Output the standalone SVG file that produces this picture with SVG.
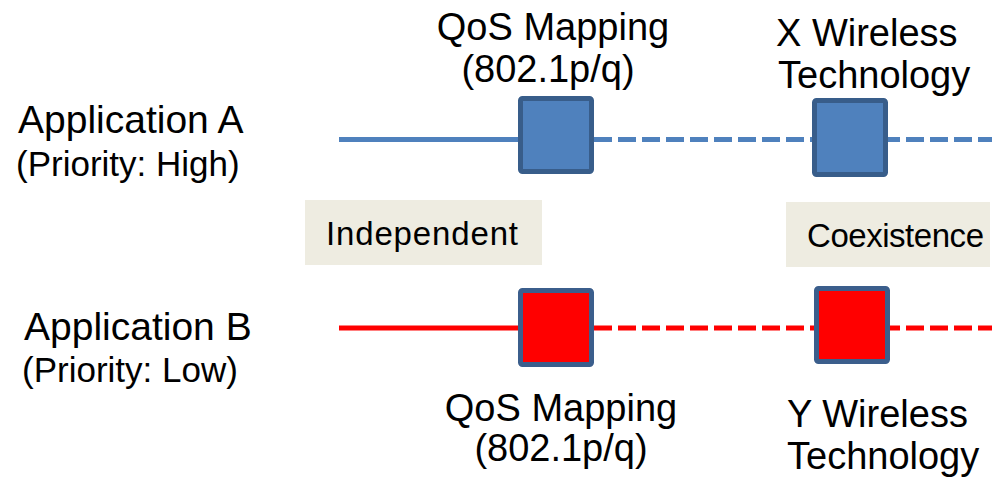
<svg xmlns="http://www.w3.org/2000/svg" width="992" height="477" viewBox="0 0 992 477">
  <style>
    text { font-family: "Liberation Sans", Arial, sans-serif; fill: #000000; }
    .big { font-size: 38px; }
    .app { font-size: 39px; }
    .pri { font-size: 35px; }
    .lbl { font-size: 33px; }
    .blue { fill: #4F81BD; stroke: #385D8A; stroke-width: 5; }
    .red { fill: #FF0000; stroke: #3B5E8C; stroke-width: 5; }
    .lblbox { fill: #EEECE1; stroke: none; }
    .lineA { stroke: #4F81BD; stroke-width: 5; fill: none; }
    .lineB { stroke: #FF0000; stroke-width: 5; fill: none; }
    .dash { stroke-dasharray: 18 6; }
  </style>
  <rect width="992" height="477" fill="#FFFFFF"/>

  <g id="labels-left">
    <g id="appA">
      <text class="app" x="18" y="133">Application A</text>
      <text class="pri" x="16" y="176">(Priority: High)</text>
    </g>
    <g id="appB">
      <text class="app" x="24" y="340">Application B</text>
      <text class="pri" x="22" y="382">(Priority: Low)</text>
    </g>
  </g>

  <g id="independent">
    <rect class="lblbox" x="305" y="200" width="237" height="65"/>
    <text class="lbl" x="326" y="245" textLength="192">Independent</text>
  </g>
  <g id="coexistence">
    <rect class="lblbox" x="786" y="202" width="204" height="65"/>
    <text class="lbl" x="807" y="247" textLength="177">Coexistence</text>
  </g>

  <g id="connectors">
    <line class="lineA" x1="339" y1="139.5" x2="520" y2="139.5"/>
    <line class="lineA dash" x1="594" y1="139.5" x2="992" y2="139.5"/>
    <line class="lineB" x1="339" y1="328" x2="520" y2="328"/>
    <line class="lineB dash" x1="594" y1="328" x2="992" y2="328"/>
  </g>

  <g id="qosA">
    <rect class="blue" x="520.5" y="98.5" width="71" height="73" rx="2"/>
    <text class="big" x="553" y="40" text-anchor="middle">QoS Mapping</text>
    <text class="big" x="548" y="82" text-anchor="middle">(802.1p/q)</text>
  </g>
  <g id="wirelessX">
    <rect class="blue" x="814.5" y="100.5" width="71" height="74" rx="2"/>
    <text class="big" x="776" y="46" font-size="37">X Wireless</text>
    <text class="big" x="778" y="88" font-size="37">Technology</text>
  </g>
  <g id="qosB">
    <rect class="red" x="520.5" y="290.5" width="71" height="74" rx="2"/>
    <text class="big" x="561" y="421" text-anchor="middle">QoS Mapping</text>
    <text class="big" x="561" y="461" text-anchor="middle">(802.1p/q)</text>
  </g>
  <g id="wirelessY">
    <rect class="red" x="816.5" y="288.5" width="71" height="73" rx="2"/>
    <text class="big" x="787" y="427" font-size="37">Y Wireless</text>
    <text class="big" x="787" y="469" font-size="37">Technology</text>
  </g>
</svg>
